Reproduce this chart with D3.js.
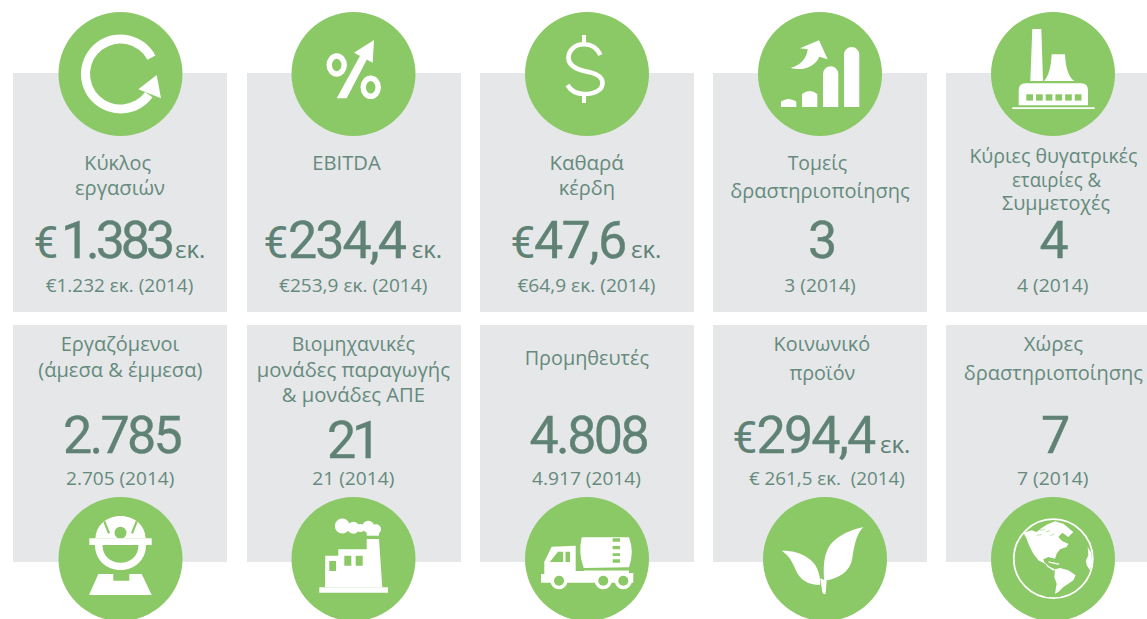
<!DOCTYPE html>
<html>
<head>
<meta charset="utf-8">
<script src="https://cdnjs.cloudflare.com/ajax/libs/d3/7.8.5/d3.min.js"></script>
<style>
html, body { margin: 0; padding: 0; background: #fff; overflow: hidden; }
svg { display: block; }
</style>
</head>
<body>
<script>
'use strict';

// chart values, one entry per card, top row then bottom row
var titles = [
   ["Κύκλος", "εργασιών"], ["EBITDA"], ["Καθαρά", "κέρδη"], ["Τομείς", "δραστηριοποίησης"], ["Κύριες θυγατρικές", "εταιρίες &", "Συμμετοχές"],
   ["Εργαζόμενοι", "(άμεσα & έμμεσα)"], ["Βιομηχανικές", "μονάδες παραγωγής", "& μονάδες ΑΠΕ"], ["Προμηθευτές"], ["Κοινωνικό", "προϊόν"], ["Χώρες", "δραστηριοποίησης"]
];
var currency = ["€", "€", "€", "", "", "", "", "", "€", ""];
var values = ["1.383", "234,4", "47,6", "3", "4", "2.785", "21", "4.808", "294,4", "7"];
var units = ["εκ.", "εκ.", "εκ.", "", "", "", "", "", "εκ.", ""];
var priorValues = ["€1.232 εκ. (2014)", "€253,9 εκ. (2014)", "€64,9 εκ. (2014)", "3 (2014)", "4 (2014)",
   "2.705 (2014)", "21 (2014)", "4.917 (2014)", "€ 261,5 εκ.  (2014)", "7 (2014)"];

// layout: [x0, x1, baseline] for every text run
var titleSpans = [
   [[84.3, 151, 170], [75, 165, 194.5]],
   [[312.3, 380.7, 170]],
   [[549.4, 623.8, 170], [558.7, 615, 195]],
   [[787.7, 847.2, 170], [730.2, 909.8, 198]],
   [[969.4, 1137.4, 163], [1012, 1101, 187], [1002, 1110, 210]],
   [[60.7, 179.3, 351], [38.3, 202.3, 377]],
   [[291.7, 415, 351], [256.7, 450, 377], [281.7, 425, 402]],
   [[524.7, 649, 365]],
   [[773.6, 870.2, 351], [789.4, 855.3, 380]],
   [[1023.8, 1083, 351], [963.8, 1143, 380]]
];
var euroX = [33.5, 263.5, 510.5, null, null, null, null, null, 732.5, null];
var valueSpans = [[61, 171, 258], [288, 405, 258], [534, 625.5, 258], [808, 835.5, 258], [1039.5, 1069.5, 258],
   [63, 180, 453], [327, 377, 458], [529.5, 647, 453], [756.5, 874.5, 453], [1041, 1069.5, 453]];
var unitX = [175, 411.7, 631, null, null, null, null, null, 880, null];
var priorSpans = [[45.7, 193.3, 292], [279, 427.3, 292], [517.4, 655.3, 292], [784.3, 855.7, 292], [1017, 1088.5, 292],
   [66, 174.3, 485], [312.3, 394.3, 485], [532, 640.9, 485], [749, 904.7, 485], [1017, 1088.5, 485]];
var circleX = [120.5, 353.5, 587, 820, 1053, 120.5, 353.5, 587, 825, 1053];

var GREEN = "#8bc866", WHITE = "#fff", GREY = "#e5e7e9", INK = "#5f8274", SOFT = "#668a7c";
var LABEL_FONT = "'Open Sans', sans-serif", NUMBER_FONT = "Roboto, sans-serif";

var svg = d3.select("body").append("svg").attr("width", 1147).attr("height", 619);

var xBand = d3.scaleBand().domain(d3.range(5)).range([13.25, 13.25 + 5 * 233.25 - 19.25]).paddingInner(19.25 / 233.25).paddingOuter(0);
var rowTop = d3.scaleOrdinal().domain([0, 1]).range([73, 325]);
var rowHeight = d3.scaleOrdinal().domain([0, 1]).range([239, 237]);
var circleY = d3.scaleOrdinal().domain([0, 1]).range([74, 559]);

svg.selectAll("rect.panel").data(d3.range(10)).enter().append("rect")
   .attr("class", "panel")
   .attr("x", function(d){ return Math.round(xBand(d % 5)); })
   .attr("y", function(d){ return rowTop(Math.floor(d / 5)); })
   .attr("width", Math.round(xBand.bandwidth()))
   .attr("height", function(d){ return rowHeight(Math.floor(d / 5)); })
   .attr("fill", GREY);

// text stretched to the measured span
function addText(str, span, size){
   svg.append("text")
      .attr("x", span[0])
      .attr("y", span[2])
      .attr("textLength", span[1] - span[0])
      .attr("lengthAdjust", "spacingAndGlyphs")
      .style("white-space", "pre")
      .attr("font-family", LABEL_FONT)
      .attr("font-size", size)
      .attr("fill", SOFT)
      .text(str);
}

// euro sign, number and unit share one text element, the number is tracked tight to its span
function addValue(i){
   var span = valueSpans[i];
   var text = svg.append("text")
      .attr("y", span[2])
      .attr("fill", INK);
   if(currency[i]){
      text.append("tspan").attr("x", euroX[i])
         .attr("font-family", NUMBER_FONT).attr("font-size", 44)
         .text(currency[i]);
   }
   var num = text.append("tspan").attr("x", span[0])
      .attr("font-family", NUMBER_FONT).attr("font-size", 52)
      .attr("stroke", INK).attr("stroke-width", 0.35)
      .text(values[i]);
   var natural = num.node().getComputedTextLength();
   num.attr("letter-spacing", (span[1] - span[0] - natural) / values[i].length);
   if(units[i]){
      text.append("tspan").attr("x", unitX[i])
         .attr("font-family", LABEL_FONT).attr("font-size", 24)
         .attr("stroke", "none")
         .text(units[i]);
   }
}

titles.forEach(function(lines, i){
   lines.forEach(function(line, j){
      addText(line, titleSpans[i][j], 20);
   });
   addValue(i);
   addText(priorValues[i], priorSpans[i], 19);
});

var circles = svg.selectAll("g.badge").data(d3.range(10)).enter().append("g")
   .attr("class", "badge")
   .attr("transform", function(d){ return "translate(" + circleX[d] + "," + circleY(Math.floor(d / 5)) + ")"; });

circles.append("circle").attr("r", 62).attr("fill", GREEN);

function white(g, d){ return g.append("path").attr("d", d).attr("fill", WHITE); }
function green(g, d){ return g.append("path").attr("d", d).attr("fill", GREEN); }

// icons, drawn around the badge centre
var icons = [
   function(g){ // cycle
      var arc = d3.arc().innerRadius(30.5).outerRadius(39.5)
         .startAngle(62 * Math.PI / 180).endAngle(-234 * Math.PI / 180);
      g.append("path").attr("d", arc()).attr("fill", WHITE);
      white(g, "M36.2,1 L40.5,24.3 L17.8,15.3 Z");
   },
   function(g){ // percent with arrow
      g.append("ellipse").attr("cx", -16.8).attr("cy", -9).attr("rx", 7.5).attr("ry", 9).attr("fill", "none").attr("stroke", WHITE).attr("stroke-width", 5.5);
      g.append("ellipse").attr("cx", 17.2).attr("cy", 13.3).attr("rx", 7.5).attr("ry", 9).attr("fill", "none").attr("stroke", WHITE).attr("stroke-width", 5.5);
      white(g, "M-16.8,24.3 L-6.8,24.3 L14.8,-17.3 L8.2,-21.3 Z");
      white(g, "M20.5,-34 L0.5,-21.3 L19.2,-11.3 Z");
   },
   function(g){ // dollar
      g.append("path")
         .attr("d", "M13.4,-19 C10,-26 4,-29.7 -3,-29.7 C-12,-29.7 -18.5,-24 -18.5,-16 C-18.5,-8 -11,-5 -3,-3 C6,-1 15.5,1 15.5,9 C15.5,16 8,20 -3,20 C-10,20 -16,17 -19.5,11")
         .attr("fill", "none").attr("stroke", WHITE).attr("stroke-width", 4.6);
      white(g, "M-5,-39 H-1 V-28 H-5 Z M-5,20 H-1 V29 H-5 Z");
   },
   function(g){ // rising bars
      white(g, "M-39,33 V27.5 Q-31.4,22.5 -23.7,27.5 V33 Z");
      white(g, "M-18,33 V20 Q-10.3,14 -2.7,20 V33 Z");
      white(g, "M3,33 V0 A7.65,7.65 0 0 1 18.3,0 V33 Z");
      white(g, "M24,33 V-19.4 A7.65,7.65 0 0 1 39.3,-19.4 V33 Z");
      white(g, "M-1,-33.7 L7.7,-14.7 L-0.7,-17.3 C-4,-8 -18,-2 -29.3,-6.3 C-20,-8 -13,-16 -12.3,-24.7 L-20,-25.7 Z");
   },
   function(g){ // power plant
      white(g, "M-20.7,-45 H-11.7 L-10,7 H-22.7 Z");
      white(g, "M-1.3,-19.7 H12 C12.5,-8 15,3 21.3,7 H-9 C-4,2 -2,-8 -1.3,-19.7 Z");
      white(g, "M-34.3,31.3 V16.3 Q-34.3,9.3 -27.3,9.3 H28 Q35,9.3 35,16.3 V31.3 Z");
      d3.range(6).forEach(function(k){
         g.append("rect").attr("x", -26.7 + k * 9.7).attr("y", 20.3).attr("width", 6.7).attr("height", 6.3).attr("fill", GREEN);
      });
      g.append("rect").attr("x", -40.7).attr("y", 33.3).attr("width", 82.4).attr("height", 1.7).attr("fill", WHITE);
   },
   function(g){ // worker
      white(g, "M-25,-20.7 C-25,-33 -14,-43 0,-43 C14,-43 25,-33 25,-20.7 Z");
      g.append("path").attr("d", "M-16.2,-37.7 L-11.5,-25.7 M16.2,-37.7 L11.5,-25.7").attr("stroke", GREEN).attr("stroke-width", 2.2);
      g.append("circle").attr("cy", -26.3).attr("r", 6).attr("fill", GREEN);
      white(g, "M-31.2,-20.7 H31.2 V-14 H-31.2 Z");
      white(g, "M-25.5,-14 C-25.5,1 -14,11 0,11 C14,11 25.5,1 25.5,-14 Z");
      green(g, "M-18,-14 C-18,-3 -10,3.7 0,3.7 C10,3.7 18,-3 18,-14 Z");
      white(g, "M-22.2,15 L-7.2,15 V21.7 H8.8 V15 H21.2 L31.2,36 H-31.5 Z");
   },
   function(g){ // factory
      white(g, "M-28.2,-3.3 H-15.2 V-9.7 H13.2 V-20 H25.5 L28.8,28.3 H-28.5 Z");
      white(g, "M-34.2,28.3 H34.5 V33.7 H-34.2 Z");
      green(g, "M-24.2,2 H-17.5 V12 H-24.2 Z M-9.2,-3.3 H-2.2 V6.7 H-9.2 Z M2.2,-3.3 H9.2 V6.7 H2.2 Z");
      white(g, "M13.2,-27.3 H25.5 V-23.3 H13.2 Z");
      [[-11.2, -33, 7.5], [-0.2, -31.3, 6], [7, -31, 4], [14.8, -32.3, 6], [22.5, -29.7, 5]].forEach(function(c){
         g.append("circle").attr("cx", c[0]).attr("cy", c[1]).attr("r", c[2]).attr("fill", WHITE);
      });
   },
   function(g){ // tanker truck
      white(g, "M-5.3,-21.7 H42 Q47.5,-7 42,8.2 L-3.3,9 Q-9,-6 -5.3,-21.7 Z");
      green(g, "M25.7,-20.7 H33 V-17.3 H25.7 Z M25.7,-13 H33 V-9.7 H25.7 Z M25.7,-5.7 H33 V-3 H25.7 Z M25.7,0.3 H33 V3.7 H25.7 Z");
      white(g, "M-42.7,2.7 L-35.3,-12.3 L-11.3,-13.3 V12 H-3 V11.5 H42 V14 H46.3 V23.7 H-46 V15 H-42.7 Z");
      green(g, "M-37.2,3 L-29,-7.3 H-23.8 V3 Z M-21.5,-7.3 H-17 V3 H-21.5 Z");
      [-28, 16.3, 36.3].forEach(function(x){
         g.append("circle").attr("cx", x).attr("cy", 21.7).attr("r", 8.6).attr("fill", WHITE);
         g.append("circle").attr("cx", x).attr("cy", 21.7).attr("r", 5).attr("fill", GREEN);
      });
   },
   function(g){ // leaves
      var leaf = g.append("g").attr("transform", "translate(-50,-44) scale(0.3333)");
      white(leaf, "M265,37 C220,45 170,70 155,110 C145,135 145,170 148,198 C195,190 225,170 232,130 C238,90 245,55 265,37 Z");
      white(leaf, "M20,107 C70,105 120,130 130,170 C135,185 137,200 135,210 C100,210 75,195 62,165 C50,135 40,120 20,107 Z");
      white(leaf, "M136,190 L155,198 L152,235 Q147,242 142,232 Z");
   },
   function(g){ // globe
      g.append("circle").attr("cx", 0.3).attr("cy", -0.3).attr("r", 39.5).attr("fill", "none").attr("stroke", WHITE).attr("stroke-width", 1.8);
      var land = g.append("g").attr("transform", "translate(-48,-47) scale(0.3333)");
      white(land, "M55,62 L80,55 L95,60 L110,48 L125,38 L150,28 L175,35 L205,60 L190,75 L172,62 L160,75 L172,88 L190,95 L185,105 L165,112 L155,125 L150,140 L130,135 L115,142 L120,155 L100,145 L85,125 L72,100 L65,80 Z");
      white(land, "M115,148 L135,165 L150,172 L146,176 L128,165 Z M130,148 L165,155 L160,158 L132,152 Z");
      white(land, "M150,172 L165,168 L190,175 L212,190 L205,205 L190,215 L175,225 L160,240 L150,245 L155,215 L148,195 Z");
      white(land, "M248,105 L258,120 L262,150 L255,175 L245,160 L243,145 L250,130 Z");
      land.append("path")
         .attr("d", "M105,55 L120,52 M122,60 L136,56 M135,72 L148,65 M95,70 L110,68")
         .attr("stroke", GREEN).attr("stroke-width", 1.6);
   }
];

circles.each(function(d){ icons[d](d3.select(this)); });
</script>
</body>
</html>
